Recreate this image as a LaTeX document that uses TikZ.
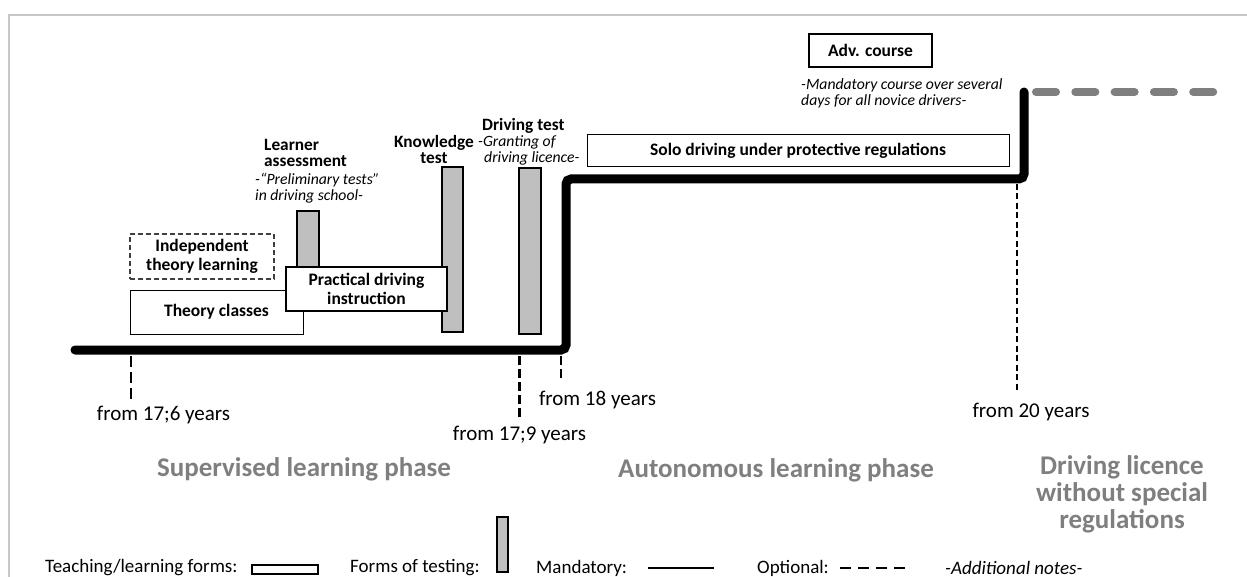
\documentclass[tikz,border=0pt]{standalone}
\usepackage{fontspec}
\setmainfont{Carlito}
\definecolor{phasegray}{RGB}{127,127,127}
\definecolor{bargray}{RGB}{191,191,191}
\definecolor{framegray}{RGB}{200,200,200}
\definecolor{dashgray}{RGB}{64,64,64}
\begin{document}
\begin{tikzpicture}[x=1pt,y=-1pt,
  lbl/.style={font=\fontsize{17.3}{16}\selectfont\bfseries, inner sep=0, align=center},
  note/.style={font=\fontsize{15.7}{16}\selectfont\itshape, inner sep=0, align=left},
  age/.style={font=\fontsize{21}{21}\selectfont, inner sep=0},
  phase/.style={font=\fontsize{27}{27}\selectfont\bfseries, text=phasegray, inner sep=0, align=center},
  legendtext/.style={font=\fontsize{19}{19}\selectfont, inner sep=0, anchor=west},
  formbox/.style={draw, fill=white, line width=1.2pt, inner sep=0, align=center,
    font=\fontsize{17.5}{19.5}\selectfont\bfseries},
  optbox/.style={formbox, draw=dashgray, dash pattern=on 5pt off 3pt},
  testbar/.style={draw, fill=bargray, line width=1.2pt},
  mainline/.style={line width=9pt, rounded corners=5pt, line cap=round},
  optline/.style={line width=8pt, draw=phasegray, line cap=round, dash pattern=on 20pt off 19.3pt},
  agetick/.style={line width=1.6pt, dash pattern=on 8pt off 5pt}
]
\useasboundingbox (0,0) rectangle (1247,577);
% outer frame
\draw[framegray, line width=1.5pt] (9,580) -- (9,15) -- (1250,15);

% test bars (drawn first so that the course boxes can overlap them)
\draw[testbar] (297,211) rectangle (319,300);
\draw[testbar] (442,167) rectangle (463,332);
\draw[testbar] (519,168) rectangle (541,334);

% teaching / learning forms
\node[optbox, minimum width=144, minimum height=45] (indep) at (202,256.5) {Independent\\theory learning};
\node[formbox, line width=1pt, minimum width=173, minimum height=44] (theory) at (216.5,312) {Theory classes};
\node[formbox, line width=1.5pt, minimum width=161, minimum height=44] (practical) at (366.5,289) {Practical driving\\instruction};
\node[formbox, line width=1pt, minimum width=422, minimum height=32] (solo) at (798,151) {Solo driving under protective regulations};
\node[formbox, line width=1.2pt, minimum width=123, minimum height=33] (adv) at (870.5,50.5) {Adv. course};

% test labels
\node[lbl, anchor=west, align=left] (learner) at (264,153) {Learner\\assessment};
\node[note, anchor=west] (prelim) at (255,188.5) {-“Preliminary tests”\\in driving school-};
\node[lbl] (know) at (434,149) {Knowledge\\test};
\node[lbl, anchor=west] (drv) at (482,126) {Driving test};
\node[note, anchor=west] (grant) at (478,150) {-Granting of\\\hspace*{6pt}driving licence-};
\node[note, anchor=west] (mand) at (801,93) {-Mandatory course over several\\days for all novice drivers-};

% licence timeline
\coordinate (t0) at (75,350);
\coordinate (s1) at (566,350);
\coordinate (s2) at (566,179);
\coordinate (s3) at (1024,179);
\coordinate (s4) at (1024,92);
\draw[mainline] (t0) -- (s1) -- (s2) -- (s3) -- (s4);
\coordinate (o0) at (1036,92);
\coordinate (o1) at (1214,92);
\draw[optline] (o0) -- (o1);

% age marks
\node[age] (a176) at (163.5,415) {from 17;6 years};
\node[age] (a179) at (519.5,435) {from 17;9 years};
\node[age] (a18) at (597.5,400) {from 18 years};
\node[age] (a20) at (1031,412) {from 20 years};
\coordinate (k1a) at (131,356); \coordinate (k1b) at (131,402);
\coordinate (k2a) at (519,356); \coordinate (k2b) at (519,418);
\coordinate (k3a) at (561,356); \coordinate (k3b) at (561,378);
\coordinate (k4a) at (1017,184); \coordinate (k4b) at (1017,390);
\draw[agetick, line width=2pt, dash pattern=on 11pt off 5pt] (k1a) -- (k1b);
\draw[agetick, line width=3pt, dash pattern=on 9pt off 4pt] (k2a) -- (k2b);
\draw[agetick, line width=2pt, dash pattern=on 9pt off 4pt] (k3a) -- (k3b);
\draw[agetick, line width=1.4pt, dash pattern=on 6pt off 3.5pt] (k4a) -- (k4b);

% phases
\node[phase] (ph1) at (304,469) {Supervised learning phase};
\node[phase] (ph2) at (776,470) {Autonomous learning phase};
\node[phase] (ph3) at (1122,494) {Driving licence\\without special\\regulations};

% legend
\node[legendtext] (lg1) at (45,568) {Teaching/learning forms:};
\node[draw, line width=1.2pt, minimum width=66, minimum height=9, inner sep=0] (lgbox) at (285,569.5) {};
\node[legendtext] (lg2) at (350,568) {Forms of testing:};
\node[testbar, minimum width=11, minimum height=55, inner sep=0] (lgbar) at (502.5,544.5) {};
\node[legendtext] (lg3) at (536,568) {Mandatory:};
\coordinate (m0) at (648,568); \coordinate (m1) at (714,568);
\draw[line width=1.5pt] (m0) -- (m1);
\node[legendtext] (lg4) at (757,568) {Optional:};
\coordinate (p0) at (840,568); \coordinate (p1) at (906,568);
\draw[line width=2pt, dash pattern=on 11pt off 7pt] (p0) -- (p1);
\node[legendtext, font=\fontsize{19}{19}\selectfont\itshape] (lg5) at (945,568) {-Additional notes-};
\end{tikzpicture}
\end{document}
